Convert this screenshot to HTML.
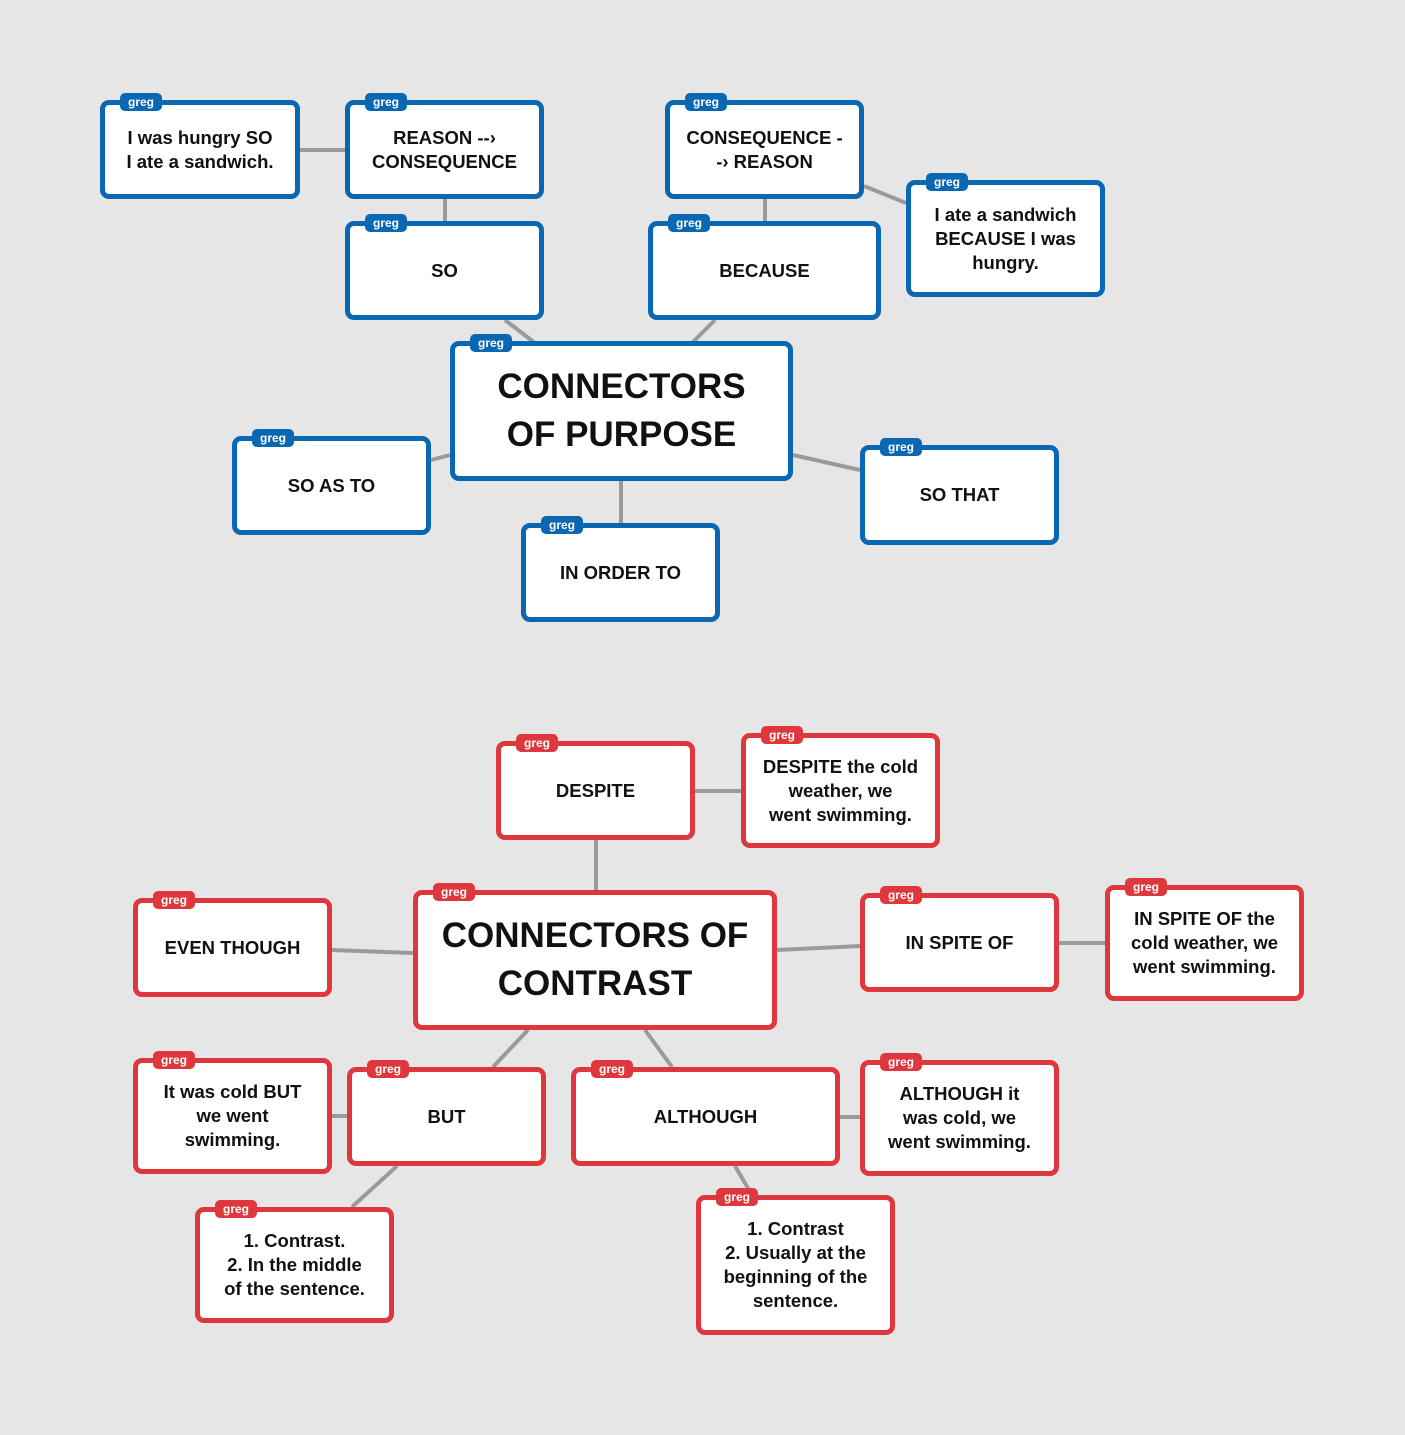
<!DOCTYPE html>
<html><head><meta charset="utf-8"><style>
body{margin:0;width:1405px;height:1435px;background:#e6e6e6;position:relative;overflow:hidden;font-family:"Liberation Sans",sans-serif}
.b{position:absolute;box-sizing:border-box;background:#fff;border:5px solid #0a68b3;border-radius:9px;display:flex;align-items:center;justify-content:center;text-align:center;font-weight:bold;font-size:18.5px;line-height:24px;color:#111}
.r{border-color:#de383e}
.b i{position:absolute;left:15px;top:-12px;font-style:normal;background:#0a68b3;color:#fff;font-size:12px;line-height:18px;height:18px;padding:0 8px;border-radius:5px}
.r i{background:#de383e}
.t{font-size:35px;line-height:48px}
svg{position:absolute;left:0;top:0}
</style></head><body>
<svg width="1405" height="1435"><g stroke="#9a9a9a" stroke-width="4">
<line x1="300" y1="150" x2="345" y2="150"/><line x1="445" y1="199" x2="445" y2="221"/><line x1="765" y1="199" x2="765" y2="221"/><line x1="864" y1="186" x2="906" y2="203"/><line x1="505" y1="320" x2="535" y2="343"/><line x1="715" y1="320" x2="692" y2="343"/><line x1="431" y1="460" x2="450" y2="455"/><line x1="793" y1="455" x2="860" y2="470"/><line x1="621" y1="481" x2="621" y2="523"/><line x1="695" y1="791" x2="741" y2="791"/><line x1="596" y1="840" x2="596" y2="890"/><line x1="332" y1="950" x2="413" y2="953"/><line x1="777" y1="950" x2="860" y2="946"/><line x1="1059" y1="943" x2="1105" y2="943"/><line x1="332" y1="1116" x2="347" y2="1116"/><line x1="528" y1="1030" x2="493" y2="1067"/><line x1="645" y1="1030" x2="672" y2="1067"/><line x1="840" y1="1117" x2="860" y2="1117"/><line x1="397" y1="1166" x2="352" y2="1207"/><line x1="735" y1="1166" x2="752" y2="1195"/>
</g></svg>
<div class="b" style="left:100px;top:100px;width:200px;height:99px"><i>greg</i>I was hungry SO<br>I ate a sandwich.</div>
<div class="b" style="left:345px;top:100px;width:199px;height:99px"><i>greg</i>REASON --›<br>CONSEQUENCE</div>
<div class="b" style="left:345px;top:221px;width:199px;height:99px"><i>greg</i>SO</div>
<div class="b" style="left:665px;top:100px;width:199px;height:99px"><i>greg</i>CONSEQUENCE -<br>-› REASON</div>
<div class="b" style="left:648px;top:221px;width:233px;height:99px"><i>greg</i>BECAUSE</div>
<div class="b" style="left:906px;top:180px;width:199px;height:117px"><i>greg</i>I ate a sandwich<br>BECAUSE I was<br>hungry.</div>
<div class="b t" style="left:450px;top:341px;width:343px;height:140px"><i>greg</i>CONNECTORS<br>OF PURPOSE</div>
<div class="b" style="left:232px;top:436px;width:199px;height:99px"><i>greg</i>SO AS TO</div>
<div class="b" style="left:860px;top:445px;width:199px;height:100px"><i>greg</i>SO THAT</div>
<div class="b" style="left:521px;top:523px;width:199px;height:99px"><i>greg</i>IN ORDER TO</div>
<div class="b r" style="left:496px;top:741px;width:199px;height:99px"><i>greg</i>DESPITE</div>
<div class="b r" style="left:741px;top:733px;width:199px;height:115px"><i>greg</i>DESPITE the cold<br>weather, we<br>went swimming.</div>
<div class="b r t" style="left:413px;top:890px;width:364px;height:140px"><i>greg</i>CONNECTORS OF<br>CONTRAST</div>
<div class="b r" style="left:133px;top:898px;width:199px;height:99px"><i>greg</i>EVEN THOUGH</div>
<div class="b r" style="left:860px;top:893px;width:199px;height:99px"><i>greg</i>IN SPITE OF</div>
<div class="b r" style="left:1105px;top:885px;width:199px;height:116px"><i>greg</i>IN SPITE OF the<br>cold weather, we<br>went swimming.</div>
<div class="b r" style="left:133px;top:1058px;width:199px;height:116px"><i>greg</i>It was cold BUT<br>we went<br>swimming.</div>
<div class="b r" style="left:347px;top:1067px;width:199px;height:99px"><i>greg</i>BUT</div>
<div class="b r" style="left:571px;top:1067px;width:269px;height:99px"><i>greg</i>ALTHOUGH</div>
<div class="b r" style="left:860px;top:1060px;width:199px;height:116px"><i>greg</i>ALTHOUGH it<br>was cold, we<br>went swimming.</div>
<div class="b r" style="left:195px;top:1207px;width:199px;height:116px"><i>greg</i>1. Contrast.<br>2. In the middle<br>of the sentence.</div>
<div class="b r" style="left:696px;top:1195px;width:199px;height:140px"><i>greg</i>1. Contrast<br>2. Usually at the<br>beginning of the<br>sentence.</div>
</body></html>
